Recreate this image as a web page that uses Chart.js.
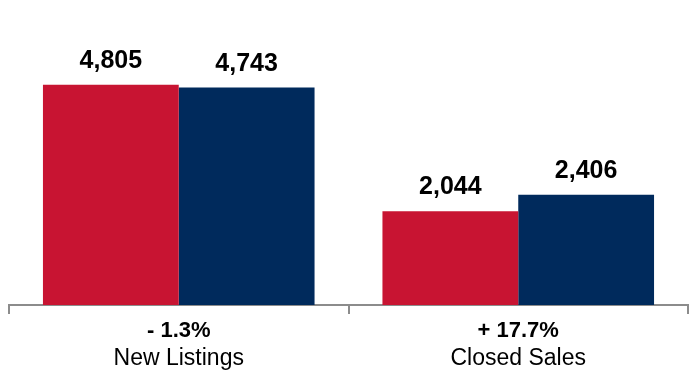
<!DOCTYPE html>
<html lang="en">
<head>
    <meta charset="UTF-8">
    <title>New Listings and Closed Sales</title>
    <script src="https://cdn.jsdelivr.net/npm/chart.js"></script>
    <style>
        body { margin: 0; background: #fff; }
        #wrap { width: 691px; height: 373px; }
    </style>
</head>
<body>
    <div id="wrap"><canvas id="chart" width="691" height="373"></canvas></div>

    <script>
        // Data
        const categories = ['New Listings', 'Closed Sales'];
        const changeLabels = ['- 1.3%', '+ 17.7%'];
        const priorYear = [4805, 2044];
        const currentYear = [4743, 2406];

        const FONT = '"Liberation Sans", Arial, Helvetica, sans-serif';

        // value labels above each bar
        const valueLabels = {
            id: 'valueLabels',
            afterDatasetsDraw(chart) {
                const ctx = chart.ctx;
                ctx.save();
                ctx.fillStyle = '#000';
                ctx.font = 'bold 25px ' + FONT;
                ctx.textAlign = 'center';
                ctx.textBaseline = 'alphabetic';
                chart.data.datasets.forEach((ds, i) => {
                    chart.getDatasetMeta(i).data.forEach((bar, j) => {
                        ctx.fillText(ds.data[j].toLocaleString('en-US'), bar.x, bar.y - 17);
                    });
                });
                ctx.restore();
            }
        };

        // two-line category labels: bold change on top, name below
        const categoryLabels = {
            id: 'categoryLabels',
            afterDraw(chart) {
                const ctx = chart.ctx;
                const x = chart.scales.x;
                ctx.save();
                ctx.fillStyle = '#000';
                ctx.textAlign = 'center';
                ctx.textBaseline = 'middle';
                categories.forEach((name, i) => {
                    const px = x.getPixelForTick(i);
                    ctx.font = 'bold 22px ' + FONT;
                    ctx.fillText(changeLabels[i], px, 331);
                    ctx.font = '23px ' + FONT;
                    ctx.fillText(name, px, 359);
                });
                ctx.restore();
            }
        };

        new Chart(document.getElementById('chart'), {
            type: 'bar',
            data: {
                labels: categories,
                datasets: [
                    { label: 'Prior Year', data: priorYear, backgroundColor: '#C81432' },
                    { label: 'Current Year', data: currentYear, backgroundColor: '#002A5C' }
                ]
            },
            options: {
                responsive: false,
                animation: false,
                layout: { padding: { top: 30, left: 9, right: 3, bottom: 0 } },
                datasets: {
                    bar: { categoryPercentage: 0.8, barPercentage: 1.0 }
                },
                plugins: {
                    legend: { display: false },
                    tooltip: { enabled: false }
                },
                scales: {
                    y: { display: false, min: 0, max: 6000 },
                    x: {
                        grid: {
                            offset: true,
                            drawOnChartArea: false,
                            drawTicks: true,
                            tickLength: 9,
                            lineWidth: 2,
                            color: '#8c8c8c'
                        },
                        border: { display: true, color: '#8c8c8c', width: 2 },
                        ticks: { display: false },
                        afterFit(scale) { scale.height = 68; }
                    }
                }
            },
            plugins: [valueLabels, categoryLabels]
        });
    </script>
</body>
</html>
